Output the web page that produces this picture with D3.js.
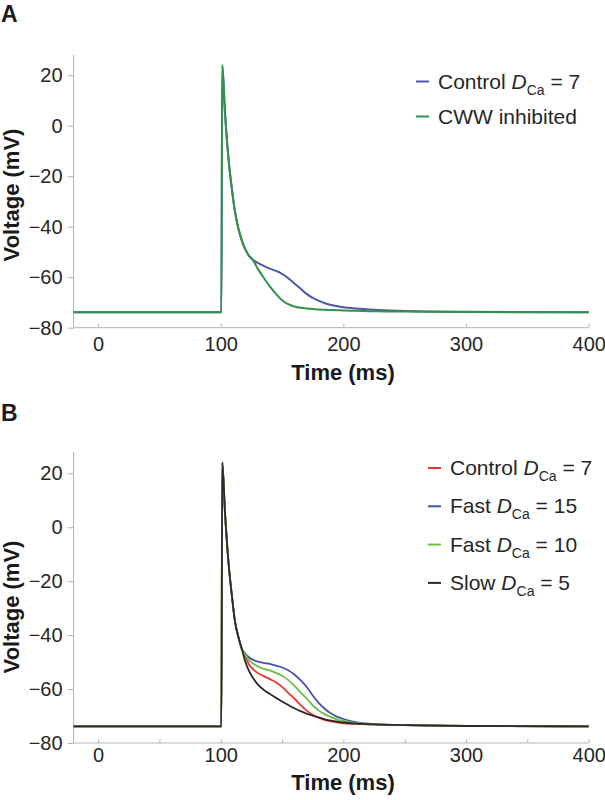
<!DOCTYPE html>
<html>
<head>
<meta charset="utf-8">
<script src="https://cdn.jsdelivr.net/npm/d3@7"></script>
<style>
  html, body { margin: 0; padding: 0; background: #fff; }
  svg { display: block; font-family: Arial, "Liberation Sans", sans-serif; }
</style>
</head>
<body>
<svg id="chart" width="605" height="800"></svg>
<script>
// ---------- DATA ----------
const timeMs = [-20, 100.5, 101.2, 103.4, 106, 109, 111.6, 114.3, 117, 120, 123, 126.5, 130, 135, 140, 145, 150, 155, 160, 165, 170, 175, 180, 185, 190, 195, 200, 210, 225, 250, 300, 400];

// Panel A
const controlA = [-73.9, -73.9, 24, 5.5, -11.5, -24.8, -34, -40.6, -45.2, -49, -51.5, -53.2, -54.3, -55.5, -56.6, -57.5, -58.7, -60.4, -62.5, -64.5, -66.6, -68.2, -69.4, -70.3, -71, -71.5, -71.9, -72.4, -72.9, -73.4, -73.7, -73.9];
const cwwInhibitedA = [-73.9, -73.9, 24, 5.5, -11.5, -24.8, -34, -40.6, -45.2, -49, -51.5, -53.5, -56.5, -60.2, -63.6, -66.6, -69.1, -70.7, -71.6, -72.1, -72.4, -72.6, -72.8, -72.9, -73, -73.1, -73.2, -73.3, -73.5, -73.6, -73.8, -73.9];

// Panel B
const controlB = [-73.8, -73.8, 24, 5.8, -11.5, -25.1, -35, -40.6, -44.9, -47.8, -50.9, -52.7, -54, -55.2, -56.3, -57.5, -59.2, -61.4, -63.5, -65.9, -68, -69.5, -70.6, -71.5, -72, -72.4, -72.7, -72.9, -73.1, -73.4, -73.7, -73.8];
const fast15B = [-73.8, -73.8, 24, 5.8, -11.5, -25.1, -35, -40.6, -44.9, -46.8, -48.2, -49.2, -49.8, -50.3, -50.7, -51.3, -52, -53, -54.6, -56.7, -59.2, -62.4, -65.2, -67.4, -69.1, -70.3, -71.1, -72.3, -73.0, -73.4, -73.7, -73.8];
const fast10B = [-73.8, -73.8, 24, 5.8, -11.5, -25.1, -35, -40.6, -44.9, -47.2, -49.3, -50.6, -51.6, -52.5, -53.1, -54, -55.1, -56.7, -58.7, -61.2, -63.5, -66, -68, -69.4, -70.4, -71.3, -71.8, -72.6, -73.1, -73.4, -73.7, -73.8];
const slow5B = [-73.8, -73.8, 24, 5.8, -11.5, -25.1, -35, -40.6, -44.9, -49.8, -53.3, -56, -58.2, -60.3, -61.8, -63.2, -64.6, -65.9, -67.1, -68.2, -69.1, -69.9, -70.6, -71.2, -71.7, -72.1, -72.4, -72.8, -73.1, -73.4, -73.7, -73.8];

const yTicks = [-80, -60, -40, -20, 0, 20];
const xTicksA = [0, 100, 200, 300, 400];
const xTicksB = [0, 50, 100, 150, 200, 250, 300, 350, 400];
const xTickLabels = [0, 100, 200, 300, 400];

const seriesA = [
  { name: "Control", sub: true, value: "7", values: controlA, color: "#4b57a8" },
  { name: "CWW inhibited", sub: false, values: cwwInhibitedA, color: "#2f9447" }
];
const seriesB = [
  { name: "Control", sub: true, value: "7", values: controlB, color: "#e8352e" },
  { name: "Fast", sub: true, value: "15", values: fast15B, color: "#4454a8" },
  { name: "Fast", sub: true, value: "10", values: fast10B, color: "#6fbe45" },
  { name: "Slow", sub: true, value: "5", values: slow5B, color: "#2a2a2a" }
];

// ---------- DRAW ----------
const svg = d3.select("#chart");
const axisColor = "#b3b3b3";
const textColor = "#262626";

function panel(opts) {
  const x = d3.scaleLinear().domain([-20, 400]).range([73.6, 588.7]);
  const y = d3.scaleLinear().domain([-80, 28]).range([opts.yBottom, opts.yTop]);
  const g = svg.append("g");

  // panel letter
  g.append("text").attr("x", 1).attr("y", opts.letterY)
    .attr("font-size", 23).attr("font-weight", "bold").attr("fill", "#1a1a1a")
    .text(opts.letter);

  // y axis
  const ya = g.append("g").attr("transform", `translate(${x(-20)},0)`)
    .call(d3.axisLeft(y).tickValues(yTicks).tickSize(6).tickPadding(5).tickFormat(d3.format("")));
  ya.select(".domain").attr("stroke", axisColor).attr("d", `M0,${y(-80)}V${opts.yTop}`);
  ya.selectAll(".tick line").attr("stroke", axisColor);
  ya.selectAll(".tick text").attr("font-size", 20).attr("fill", textColor)
    .attr("font-family", "Arial, 'Liberation Sans', sans-serif");

  // x axis
  const xa = g.append("g").attr("transform", `translate(0,${y(-80)})`)
    .call(d3.axisBottom(x).tickValues(opts.xTicks).tickSize(-4).tickPadding(opts.xPad)
      .tickFormat(d => xTickLabels.includes(d) ? String(d) : ""));
  xa.select(".domain").attr("stroke", axisColor).attr("d", `M${x(-20)},0H${x(400)}`);
  xa.selectAll(".tick line").attr("stroke", axisColor);
  xa.selectAll(".tick text").attr("font-size", 20).attr("fill", textColor)
    .attr("font-family", "Arial, 'Liberation Sans', sans-serif");

  // axis titles
  g.append("text").attr("x", 343).attr("y", opts.xTitleY).attr("text-anchor", "middle")
    .attr("font-size", 22).attr("font-weight", "bold").attr("fill", "#1a1a1a")
    .text("Time (ms)");
  g.append("text").attr("transform", `translate(19,${opts.yTitleY}) rotate(-90)`)
    .attr("text-anchor", "middle")
    .attr("font-size", 22).attr("font-weight", "bold").attr("fill", "#1a1a1a")
    .text("Voltage (mV)");

  // lines
  const line = d3.line().x(d => x(d[0])).y(d => y(d[1])).curve(d3.curveMonotoneX);
  opts.series.forEach(s => {
    g.append("path").datum(timeMs.map((t, i) => [t, s.values[i]]))
      .attr("fill", "none").attr("stroke", s.color).attr("stroke-width", opts.lw)
      .attr("stroke-linejoin", "round").attr("d", line);
  });

  // legend
  opts.series.forEach((s, i) => {
    const by = opts.legY + i * opts.legStep;
    g.append("line").attr("x1", opts.legX).attr("x2", opts.legX + 13)
      .attr("y1", by - 7).attr("y2", by - 7)
      .attr("stroke", s.color).attr("stroke-width", 2);
    const t = g.append("text").attr("x", opts.legX + 22).attr("y", by)
      .attr("font-size", 21).attr("fill", textColor);
    if (s.sub) {
      t.append("tspan").text(s.name + " ");
      t.append("tspan").attr("font-style", "italic").text("D");
      t.append("tspan").attr("font-size", 14).attr("dy", 6).text("Ca");
      t.append("tspan").attr("dy", -6).text(" = " + s.value);
    } else {
      t.text(s.name);
    }
  });
}

panel({ letter: "A", letterY: 22, yTop: 55, yBottom: 327.7, xTicks: xTicksA, xPad: 9,
  xTitleY: 380, yTitleY: 195, series: seriesA, lw: 2, legX: 416, legY: 88.5, legStep: 35 });
panel({ letter: "B", letterY: 421, yTop: 451.7, yBottom: 743, xTicks: xTicksB, xPad: 5,
  xTitleY: 790, yTitleY: 607, series: seriesB, lw: 1.8, legX: 428, legY: 475, legStep: 38.3 });
</script>
</body>
</html>
